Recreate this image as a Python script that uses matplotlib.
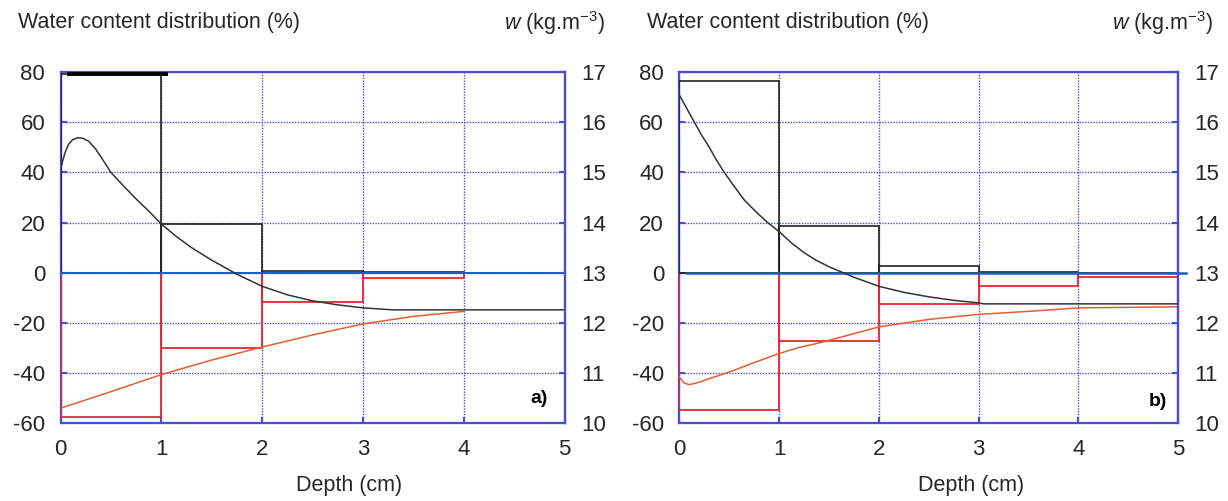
import matplotlib.pyplot as plt

plt.rcParams['font.family'] = ['Liberation Sans', 'DejaVu Sans']
plt.rcParams['mathtext.fontset'] = 'custom'
plt.rcParams['mathtext.rm'] = 'Liberation Sans'
plt.rcParams['mathtext.it'] = 'Liberation Sans:italic'
plt.rcParams['axes.unicode_minus'] = False

# depth layers (cm)
layer_left = [0, 1, 2, 3, 4]

# water content distribution per layer (%)
a_gain = [79.1, 19.4, 0.6, 0.2, 0.0]
a_loss = [-57.5, -29.8, -11.5, -2.2, 0.0]
b_gain = [76.6, 18.7, 2.7, 0.3, 0.0]
b_loss = [-54.6, -27.3, -12.4, -5.4, -1.6]

# water content profiles w (kg.m-3)
a_up_x = [0, 0.02, 0.05, 0.08, 0.12, 0.17, 0.22, 0.28, 0.35, 0.42, 0.5,
          0.62, 0.75, 0.88, 1.0, 1.15, 1.3, 1.5, 1.75, 2.0, 2.25, 2.5,
          2.75, 3.0, 3.3, 4.0, 5.0]
a_up_w = [15.05, 15.22, 15.42, 15.56, 15.65, 15.69, 15.68, 15.62, 15.46,
          15.25, 15.00, 14.74, 14.47, 14.22, 13.97, 13.72, 13.50, 13.25,
          12.97, 12.73, 12.56, 12.44, 12.36, 12.30, 12.26, 12.26, 12.26]
a_dn_x = [0, 0.5, 1.0, 1.5, 2.0, 2.5, 3.0, 3.5, 4.0]
a_dn_w = [10.30, 10.63, 10.97, 11.26, 11.52, 11.76, 11.98, 12.13, 12.23]

b_up_x = [0, 0.05, 0.1, 0.15, 0.22, 0.3, 0.37, 0.45, 0.55, 0.65, 0.77,
          0.885, 1.0, 1.12, 1.25, 1.37, 1.5, 1.75, 2.0, 2.25, 2.5, 2.75,
          3.0, 3.05, 5.0]
b_up_w = [16.54, 16.36, 16.18, 16.00, 15.75, 15.50, 15.25, 15.00, 14.72,
          14.45, 14.21, 14.00, 13.82, 13.60, 13.40, 13.25, 13.12, 12.91,
          12.73, 12.61, 12.52, 12.45, 12.40, 12.38, 12.38]
b_dn_x = [0, 0.05, 0.1, 0.2, 0.3, 0.5, 0.75, 1.0, 1.2, 1.44, 1.7, 2.0,
          2.5, 3.0, 3.5, 4.0, 5.0]
b_dn_w = [10.92, 10.80, 10.77, 10.82, 10.89, 11.02, 11.21, 11.39, 11.51,
          11.62, 11.76, 11.92, 12.07, 12.17, 12.23, 12.30, 12.32]

W, H = 1228, 501
fig = plt.figure(figsize=(W / 100, H / 100), dpi=100)

frame = '#4b4bd6'
txt = '#262626'


def panel(left_px, right_px, gain, loss, up_x, up_w, dn_x, dn_w, tag, tag_xy):
    ax = fig.add_axes([left_px / W, 0.1551, (right_px - left_px) / W, 0.7012])
    ax.set_xlim(0, 5)
    ax.set_ylim(-60, 80)
    ax.set_xticks(range(0, 6))
    ax.set_yticks(range(-60, 81, 20))
    ax.grid(True, color=frame, linestyle=(0, (1, 1)), linewidth=1.0)
    ax.set_axisbelow(True)

    # layer bars as open boxes
    ax.bar(layer_left, loss, width=1, align='edge', fill=False,
           edgecolor='#e8262a', linewidth=1.3, zorder=3)
    ax.bar(layer_left, gain, width=1, align='edge', fill=False,
           edgecolor='#222222', linewidth=1.2, zorder=3)

    for s in ax.spines.values():
        s.set_color(frame)
        s.set_linewidth(1.6)
    ax.tick_params(direction='in', length=4, width=1.5, color=frame,
                   labelsize=16, labelcolor=txt, pad=11)

    # right axis for w
    ax2 = ax.twinx()
    ax2.set_ylim(10, 17)
    ax2.set_yticks(range(10, 18))
    ax2.spines['right'].set_color(frame)
    ax2.spines['right'].set_linewidth(1.6)
    for k in ['left', 'top', 'bottom']:
        ax2.spines[k].set_visible(False)
    ax2.tick_params(direction='in', length=4, width=1.5, color=frame,
                    labelsize=16, labelcolor=txt, pad=12)
    ax2.plot(up_x, up_w, color='#333333', linewidth=1.1)
    ax2.plot(dn_x, dn_w, color='#e2602e', linewidth=1.1)

    ax.text(tag_xy[0], tag_xy[1], tag, fontsize=14, fontweight='bold',
            color='black', ha='center', va='center', zorder=5)
    return ax, ax2


ax_a, ax2_a = panel(60.5, 564.6, a_gain, a_loss, a_up_x, a_up_w,
                    a_dn_x, a_dn_w, 'a)', (4.75, -50))
ax_a.axhline(0, color='#1f5fbf', linewidth=1.5, zorder=4)
# heavy top of the first layer
ax_a.hlines(a_gain[0], 0.06, 1.07, color='black', linewidth=2.8, zorder=4,
            clip_on=False)

ax_b, ax2_b = panel(679.4, 1178, b_gain, b_loss, b_up_x, b_up_w,
                    b_dn_x, b_dn_w, 'b)', (4.8, -51.5))
ax_b.plot([0.075, 5.085], [0, 0], color='#1f5fbf', linewidth=1.8, zorder=4,
          clip_on=False)

# headings and axis labels
for x0, x1, xc in [(17.8, 605, 349), (647.4, 1213, 970.7)]:
    fig.text(x0 / W, 1 - 22.7 / H, 'Water content distribution (%)',
             fontsize=15.5, color=txt, ha='left', va='center')
    fig.text(x1 / W, 1 - 22.7 / H, r'$w$ (kg.m$^{\mathregular{-3}}$)',
             fontsize=15.5, color=txt, ha='right', va='center')
    fig.text(xc / W, 1 - 485 / H, 'Depth (cm)', fontsize=15.5, color=txt,
             ha='center', va='center')

fig.savefig('out.png', dpi=100)
